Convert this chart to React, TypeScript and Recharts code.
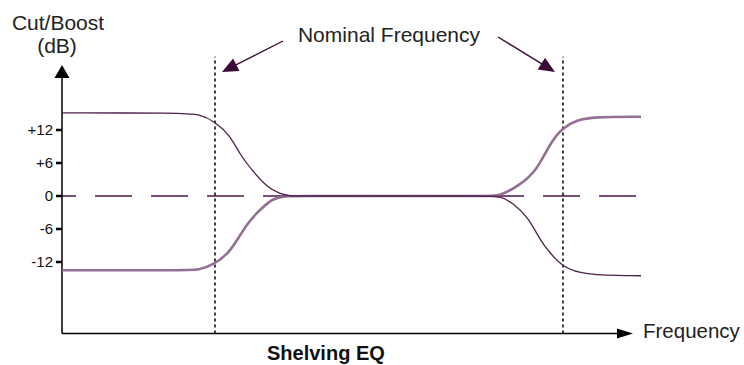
import { LineChart, Line, XAxis, YAxis, ReferenceLine } from "recharts"

// frequency axis is arbitrary (linear units), gain in dB
const boostCutFreq = [0, 118, 138, 153, 168, 178, 190, 205, 218, 228, 240, 330, 425, 438, 451, 466, 478, 488, 501, 521, 579]
const boostCutDb = [15.1, 15.1, 14.9, 13.5, 11.1, 7.5, 4.7, 1.6, 0.4, 0, 0, 0, 0, 0, -1.3, -3.8, -8.0, -10.4, -12.9, -14.4, -14.5]
const cutBoostFreq = [0, 118, 138, 151, 168, 185, 198, 211, 223, 235, 330, 425, 438, 458, 475, 488, 501, 515, 531, 579]
const cutBoostDb = [-13.5, -13.5, -13.5, -12.5, -10.4, -4.9, -2.5, -0.4, 0, 0, 0, 0, 0, 2.0, 4.7, 9.6, 12.5, 13.8, 14.4, 14.4]
const dbTicks = [12, 6, 0, -6, -12]
const nominalFreqs = [153, 501]

const boostCut = boostCutFreq.map((f, i) => ({ f, db: boostCutDb[i] }))
const cutBoost = cutBoostFreq.map((f, i) => ({ f, db: cutBoostDb[i] }))

const FONT = "'Liberation Sans', Arial, sans-serif"

const arrowShape = (head: number, half: number, color: string, w: number) => (p: any) => {
  const { x1, y1, x2, y2 } = p
  const len = Math.hypot(x2 - x1, y2 - y1) || 1
  const ux = (x2 - x1) / len, uy = (y2 - y1) / len
  const bx = x2 - ux * head, by = y2 - uy * head
  return (
    <g>
      <line x1={x1} y1={y1} x2={bx + ux * 2} y2={by + uy * 2} stroke={color} strokeWidth={w} />
      <polygon points={`${x2},${y2} ${bx - uy * half},${by + ux * half} ${bx + uy * half},${by - ux * half}`} fill={color} />
    </g>
  )
}

function Pointer({ x1, y1, x2, y2 }: { x1: number; y1: number; x2: number; y2: number }) {
  return arrowShape(16, 7, "#3a0a38", 1.4)({ x1, y1, x2, y2 })
}

export default function App() {
  return (
    <div style={{ position: "absolute", left: 0, top: 0, width: 744, height: 365, background: "#fff" }}>
      <LineChart width={744} height={365} margin={{ top: 53, right: 102, bottom: 31.5, left: 0 }}>
        <XAxis type="number" dataKey="f" domain={[0, 580]} hide />
        <YAxis
          type="number"
          domain={[-25, 26]}
          ticks={dbTicks}
          width={62}
          axisLine={false}
          tickSize={6}
          tickMargin={3}
          tickLine={{ stroke: "#000", strokeWidth: 2.5 }}
          tick={{ fill: "#111", fontSize: 15, fontFamily: FONT }}
          tickFormatter={(v: number) => (v > 0 ? `+${v}` : `${v}`)}
        />
        <ReferenceLine y={0} stroke="#4a1a48" strokeWidth={1.5} strokeDasharray="37 19" strokeDashoffset={23} />
        {nominalFreqs.map(f => (
          <ReferenceLine key={f} segment={[{ x: f, y: -25 }, { x: f, y: 25.3 }]} stroke="#000" strokeWidth={1.5} strokeDasharray="3 3" />
        ))}
        <ReferenceLine segment={[{ x: 0, y: -25 }, { x: 571, y: -25 }]} shape={arrowShape(16, 5, "#000", 1.5)} />
        <ReferenceLine segment={[{ x: 0, y: -25 }, { x: 0, y: 23.8 }]} shape={arrowShape(13, 7.5, "#000", 1.5)} />
        <Line data={cutBoost} dataKey="db" type="basis" stroke="#86628a" strokeWidth={2.6} strokeOpacity={0.9} dot={false} isAnimationActive={false} />
        <Line data={boostCut} dataKey="db" type="basis" stroke="#4e1f4a" strokeWidth={1.3} dot={false} isAnimationActive={false} />
      </LineChart>
      <svg width={744} height={365} style={{ position: "absolute", left: 0, top: 0, pointerEvents: "none" }} fontFamily={FONT}>
        <text x={58} y={30} textAnchor="middle" fontSize={21} fill="#222">Cut/Boost</text>
        <text x={57} y={53} textAnchor="middle" fontSize={21} fill="#222">(dB)</text>
        <text x={389} y={42} textAnchor="middle" fontSize={21} fill="#222">Nominal Frequency</text>
        <text x={643} y={338} fontSize={20.5} fill="#222">Frequency</text>
        <text x={267} y={360} fontSize={20} fontWeight="bold" fill="#111">Shelving EQ</text>
        <Pointer x1={283} y1={41} x2={222} y2={72} />
        <Pointer x1={498} y1={37} x2={555} y2={72} />
      </svg>
    </div>
  )
}
